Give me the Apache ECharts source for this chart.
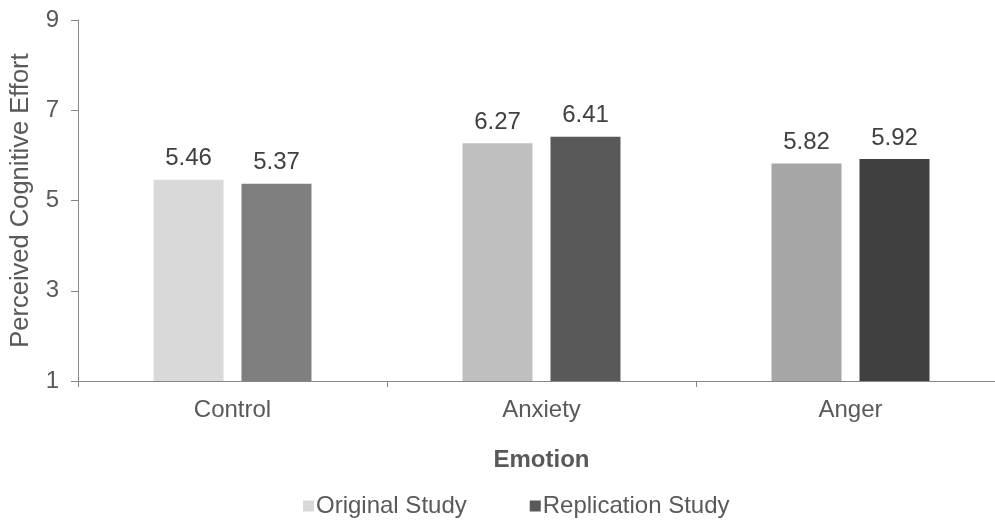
<!DOCTYPE html>
<html><head><meta charset="utf-8">
<script src="https://cdn.jsdelivr.net/npm/echarts@6/dist/echarts.min.js"></script>
<style>html,body{margin:0;padding:0;background:#fff}#c{width:995px;height:524px}</style>
</head><body><div id="c"></div>
<script>
const categories = ['Control', 'Anxiety', 'Anger'];
const originalStudy = [5.46, 6.27, 5.82];
const replicationStudy = [5.37, 6.41, 5.92];
const originalColors = ['#d9d9d9', '#bfbfbf', '#a6a6a6'];
const replicationColors = ['#7f7f7f', '#595959', '#404040'];
const yTicks = [1, 3, 5, 7, 9];

const font = 'Liberation Sans, Arial, sans-serif';
const FS = 24;
const chart = echarts.init(document.getElementById('c'), null, {renderer: 'canvas'});
const labelCfg = {show: true, position: 'top', distance: 9, color: '#404040', fontSize: FS, fontFamily: font, formatter: p => p.value.toFixed(2)};
chart.setOption({
  animation: false,
  textStyle: {fontFamily: font},
  grid: {left: 78, top: 20, bottom: 143, width: 927, containLabel: false, outerBoundsMode: 'none'},
  legend: {
    bottom: 1, left: 298, itemWidth: 11, itemHeight: 11, itemGap: 63,
    icon: 'rect',
    textStyle: {color: '#595959', fontSize: FS, fontFamily: font, padding: [0, 0, 0, -3]},
    data: ['Original Study', 'Replication Study']
  },
  xAxis: {
    type: 'category', data: categories,
    name: 'Emotion', nameLocation: 'middle', nameGap: 67,
    nameTextStyle: {color: '#595959', fontSize: FS, fontWeight: 'bold', fontFamily: font},
    axisLine: {lineStyle: {color: '#868686', width: 1}},
    axisTick: {show: true, length: 6, lineStyle: {color: '#868686'}},
    axisLabel: {color: '#595959', fontSize: FS, margin: 17, fontFamily: font}
  },
  yAxis: {
    type: 'value', min: 1, max: 9, interval: 2,
    name: 'Perceived Cognitive Effort', nameLocation: 'middle', nameGap: 44, nameRotate: 90,
    nameTextStyle: {color: '#595959', fontSize: 25.5, fontFamily: font},
    axisLine: {show: true, lineStyle: {color: '#868686', width: 1}},
    axisTick: {show: true, length: 7, lineStyle: {color: '#868686'}},
    axisLabel: {color: '#595959', fontSize: FS, margin: 19, fontFamily: font,
      formatter: v => yTicks.includes(v) ? String(v) : ''},
    splitLine: {show: false}
  },
  series: [
    {name: 'Original Study', type: 'bar', barWidth: 70, barGap: '25.7%', itemStyle: {color: '#d9d9d9'},
     label: labelCfg,
     data: originalStudy.map((v, i) => ({value: v, itemStyle: {color: originalColors[i]}}))},
    {name: 'Replication Study', type: 'bar', barWidth: 70, itemStyle: {color: '#595959'},
     label: labelCfg,
     data: replicationStudy.map((v, i) => ({value: v, itemStyle: {color: replicationColors[i]}}))}
  ]
});
</script></body></html>
